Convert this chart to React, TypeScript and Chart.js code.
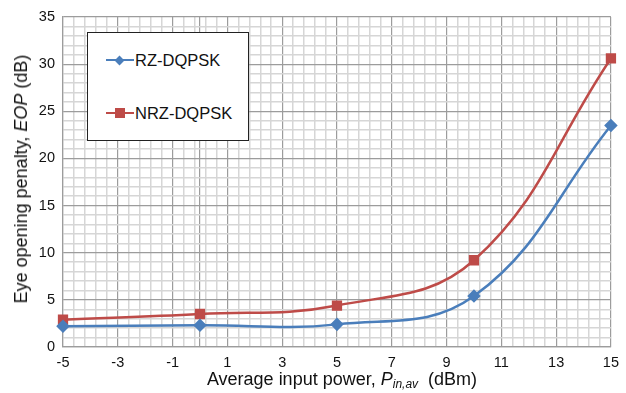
import React, { useEffect, useRef } from "react";
import { Chart, registerables } from "chart.js";

Chart.register(...registerables);

const xValues = [-5, 0, 5, 10, 15];
const rzValues = [2.2, 2.3, 2.4, 5.4, 23.5];
const nrzValues = [2.9, 3.5, 4.4, 9.2, 30.6];
const xTickLabels = [-5, -3, -1, 1, 3, 5, 7, 9, 11, 13, 15];
const xExtraMajor = [0];
const yTickLabels = [0, 5, 10, 15, 20, 25, 30, 35];
const seriesNames = ["RZ-DQPSK", "NRZ-DQPSK"];

const BLUE = "#4a7ebb";
const RED = "#be4b48";
const MAJOR = "#9c9c9c";
const MINOR = "#d6d6d6";
const FONT = "'Liberation Sans', Arial, Helvetica, sans-serif";

export default function App() {
  const ref = useRef<HTMLCanvasElement | null>(null);

  useEffect(() => {
    document.body.style.margin = "0";
    const canvas = ref.current;
    if (!canvas) return;
    const round = (v: number) => Math.round(v * 10) / 10;
    const xMinorTicks: number[] = [];
    for (let v = -5; v <= 15.0001; v += 0.4) xMinorTicks.push(round(v));
    const xTicks = Array.from(new Set([...xMinorTicks, ...xExtraMajor])).sort((a, b) => a - b);
    const isXMajor = (v: number) => xTickLabels.includes(round(v)) || xExtraMajor.includes(round(v));
    const isYMajor = (v: number) => yTickLabels.includes(round(v));

    const chart = new Chart(canvas, {
      type: "line",
      data: {
        datasets: [
          {
            label: seriesNames[0],
            data: xValues.map((x, i) => ({ x, y: rzValues[i] })),
            borderColor: BLUE,
            backgroundColor: BLUE,
            borderWidth: 2.5,
            pointStyle: "rectRot",
            pointRadius: 5,
            tension: 0.4,
            clip: false as any,
          },
          {
            label: seriesNames[1],
            data: xValues.map((x, i) => ({ x, y: nrzValues[i] })),
            borderColor: RED,
            backgroundColor: RED,
            borderWidth: 2.5,
            pointStyle: "rect",
            pointRadius: 5.5,
            tension: 0.4,
            clip: false as any,
          },
        ],
      },
      options: {
        animation: false,
        responsive: false,
        layout: { padding: { top: 17, right: 12, left: 0, bottom: 0 } },
        plugins: { legend: { display: false }, tooltip: { enabled: false } },
        scales: {
          x: {
            type: "linear",
            min: -5,
            max: 15,
            afterBuildTicks: (scale: any) => {
              scale.ticks = xTicks.map((v) => ({ value: v }));
            },
            afterFit: (scale: any) => {
              scale.height = 46;
            },
            ticks: {
              autoSkip: false,
              maxRotation: 0,
              padding: 7,
              color: "#111",
              font: { family: FONT, size: 14.5 },
              callback: (v: any) => (xTickLabels.includes(round(Number(v))) ? String(round(Number(v))) : ""),
            },
            grid: {
              drawTicks: false,
              color: (ctx: any) => (isXMajor(ctx.tick.value) ? MAJOR : MINOR),
              lineWidth: (ctx: any) => (isXMajor(ctx.tick.value) ? 1.2 : 1.5),
            },
            border: { display: true, color: MAJOR, width: 1.2 },
          },
          y: {
            type: "linear",
            min: 0,
            max: 35,
            afterBuildTicks: (scale: any) => {
              const t: any[] = [];
              for (let v = 0; v <= 35; v++) t.push({ value: v });
              scale.ticks = t;
            },
            afterFit: (scale: any) => {
              scale.width = 63;
            },
            ticks: {
              autoSkip: false,
              padding: 8,
              color: "#111",
              font: { family: FONT, size: 14.5 },
              callback: (v: any) => (yTickLabels.includes(round(Number(v))) ? String(round(Number(v))) : ""),
            },
            grid: {
              drawTicks: false,
              color: (ctx: any) => (isYMajor(ctx.tick.value) ? MAJOR : MINOR),
              lineWidth: (ctx: any) => (isYMajor(ctx.tick.value) ? 1.2 : 1.5),
            },
            border: { display: true, color: MAJOR, width: 1.2 },
          },
        },
      },
    });
    return () => chart.destroy();
  }, []);

  const legendRow = (name: string, color: string, marker: "diamond" | "square", top: number) => (
    <div style={{ position: "absolute", left: 0, top, height: 0, width: "100%" }}>
      <div style={{ position: "absolute", left: 18, top: -1.25, width: 28, height: 2.5, background: color }} />
      {marker === "diamond" ? (
        <div
          style={{
            position: "absolute",
            left: 28,
            top: -3.5,
            width: 7,
            height: 7,
            background: color,
            transform: "rotate(45deg)",
          }}
        />
      ) : (
        <div style={{ position: "absolute", left: 27, top: -5, width: 10, height: 10, background: color }} />
      )}
      <div
        style={{
          position: "absolute",
          left: 47,
          top: -10,
          fontFamily: FONT,
          fontSize: 16.5,
          lineHeight: "20px",
          color: "#111",
          whiteSpace: "nowrap",
        }}
      >
        {name}
      </div>
    </div>
  );

  return (
    <div style={{ position: "relative", width: 626, height: 393, background: "#fff", overflow: "hidden" }}>
      <canvas ref={ref} width={626} height={393} style={{ display: "block" }} />
      <div
        style={{
          position: "absolute",
          left: 87,
          top: 32,
          width: 160,
          height: 107,
          border: "1px solid #222",
          background: "#fff",
        }}
      >
        {legendRow(seriesNames[0], BLUE, "diamond", 27)}
        {legendRow(seriesNames[1], RED, "square", 80)}
      </div>
      <div
        style={{
          position: "absolute",
          left: 21,
          top: 179,
          transform: "translate(-50%, -50%) rotate(-90deg)",
          fontFamily: FONT,
          fontSize: 18,
          color: "#111",
          whiteSpace: "nowrap",
          lineHeight: "20px",
        }}
      >
        Eye opening penalty, <i>EOP</i> (dB)
      </div>
      <div
        style={{
          position: "absolute",
          left: 342,
          top: 381,
          transform: "translate(-50%, -50%)",
          fontFamily: FONT,
          fontSize: 18,
          color: "#111",
          whiteSpace: "nowrap",
          lineHeight: "20px",
        }}
      >
        Average input power, <i>P</i>
        <sub style={{ fontSize: 12, verticalAlign: "-3px" }}>
          <i>in,av</i>
        </sub>
        &nbsp; (dBm)
      </div>
    </div>
  );
}
